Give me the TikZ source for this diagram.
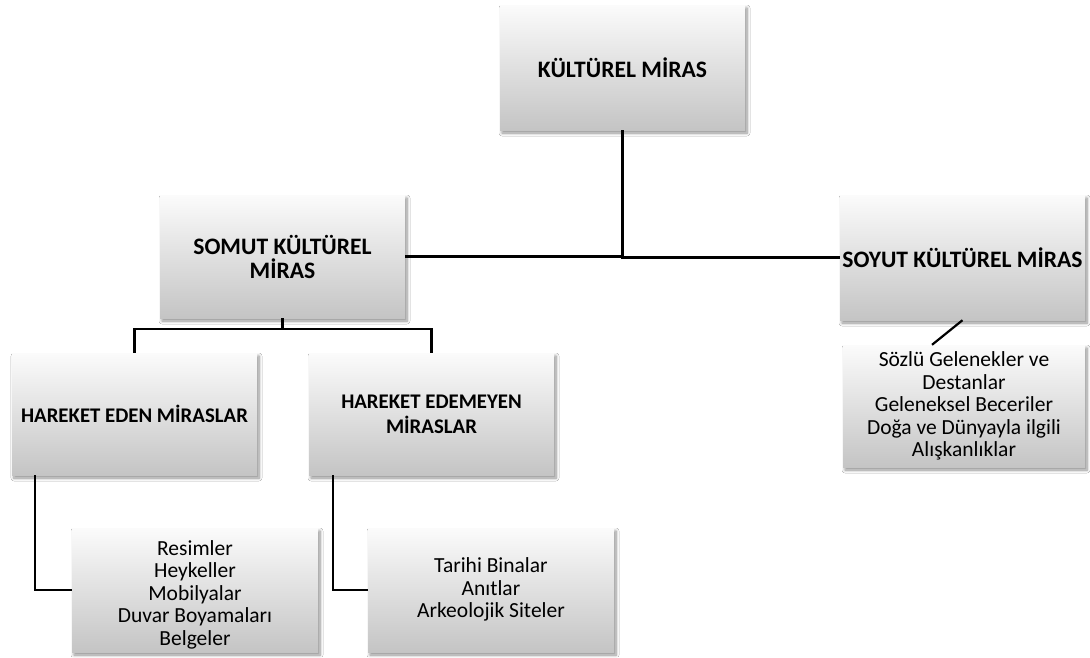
\documentclass[tikz,border=0pt]{standalone}
\usepackage{fontspec}
\setmainfont{Carlito}
\usetikzlibrary{shadows.blur}

\tikzset{
  box/.style={rectangle, minimum width=245pt, minimum height=123pt,
    inner sep=0pt, align=center,
    top color=white!97!gray, bottom color=gray!46,
    blur shadow={shadow xshift=2pt, shadow yshift=-3pt, shadow blur steps=6, shadow blur radius=3pt, shadow opacity=45}},
  head/.style={box, font=\fontsize{23.6}{24}\selectfont\bfseries},
  subhead/.style={box, font=\fontsize{20.8}{25}\selectfont\bfseries},
  list/.style={box, font=\fontsize{21.5}{22.6}\selectfont},
  link/.style={draw=black, line width=2.2pt}
}
% a block of centred lines, placed a given distance below the box centre
\newcommand{\lowerlines}[2]{\raisebox{-#1}[0pt][0pt]{\begin{tabular}{@{}c@{}}#2\end{tabular}}}

\begin{document}
\begin{tikzpicture}[x=1pt, y=-1pt]
\useasboundingbox[fill=white] (0,0) rectangle (1090,657);

% top level
\node[head, minimum height=125pt] (kultur) at (622.5,67.5) {KÜLTÜREL MİRAS};

% second level
\node[head] (somut) at (282.5,256.5) {SOMUT KÜLTÜREL\\MİRAS};
\node[head, minimum height=125pt] (soyut) at (962.5,257.5) {SOYUT KÜLTÜREL MİRAS};

% third level
\node[subhead, minimum height=122pt] (eden) at (134.5,414) {HAREKET EDEN MİRASLAR};
\node[subhead, minimum height=122pt] (edemeyen) at (431.5,414) {HAREKET EDEMEYEN\\MİRASLAR};
\node[list, minimum width=242pt, minimum height=122pt] (soyutlist) at (964,406)
  {Sözlü Gelenekler ve\\Destanlar\\Geleneksel Beceriler\\Doğa ve Dünyayla ilgili\\Alışkanlıklar};

% leaves
\node[list, minimum width=246pt, minimum height=124pt] (resim) at (195,590)
  {\lowerlines{11pt}{Resimler\\Heykeller\\Mobilyalar\\Duvar Boyamaları\\Belgeler}};
\node[list, minimum width=246pt, minimum height=124pt] (tarih) at (491,590)
  {\lowerlines{6pt}{Tarihi Binalar\\Anıtlar\\Arkeolojik Siteler}};

% connectors
\coordinate (split) at (282.5,329);
\draw[link] (kultur.south) |- (somut.east);
\draw[link] (kultur.south) |- (soyut.west);
\draw[link] (somut.south) -- (split);
\draw[link] (split) -| (eden.north);
\draw[link] (split) -| (edemeyen.north);
\draw[link] ([xshift=-99.5pt]eden.south) |- (resim.west);
\draw[link] ([xshift=-98.5pt]edemeyen.south) |- (tarih.west);
\draw[link] (soyut.south) -- ([xshift=-32pt]soyutlist.north);
\end{tikzpicture}
\end{document}
